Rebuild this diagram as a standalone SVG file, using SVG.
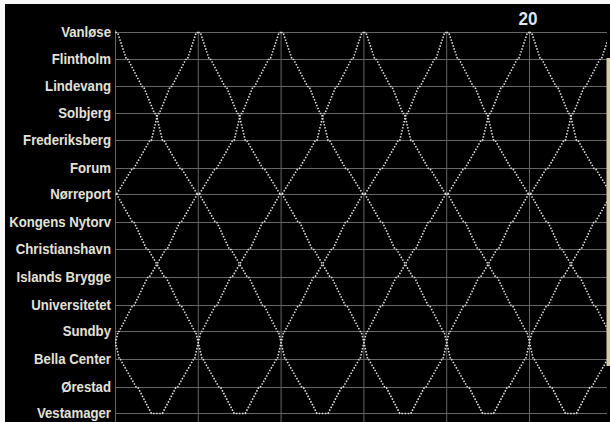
<svg xmlns="http://www.w3.org/2000/svg" xmlns:xlink="http://www.w3.org/1999/xlink" width="610" height="422" viewBox="0 0 610 422">
<style>
.lbl{font-family:"Liberation Sans",Arial,sans-serif;font-size:15px;font-weight:bold;fill:#e4e2da;text-anchor:end}
.grid{stroke:#666;stroke-width:1;fill:none}
.train{stroke:#e0e0e0;stroke-width:1.6;fill:none;stroke-dasharray:1.5 1.6}
</style>
<defs>
<clipPath id="plot"><rect x="115" y="28" width="492" height="394"/></clipPath>
<path id="trip" d="M0 32.5 L2 32.5 L11 59.5 L12.5 59.5 L26.5 86.5 L28 86.5 L39 113.5 L40.5 113.5 L47 140.5 L48.5 140.5 L64.5 168.5 L66 168.5 L82 194.5 L84 194.5 L100 222.5 L101.5 222.5 L114 249.5 L115.5 249.5 L132 277.5 L133.5 277.5 L147 305.5 L148.5 305.5 L162 331.5 L163 331.5 L169.5 359.5 L170.5 359.5 L186.5 387.5 L188 387.5 L201.5 413.5 L212.5 413.5 L226 387.5 L227.5 387.5 L243.5 359.5 L244.5 359.5 L251 331.5 L252 331.5 L265.5 305.5 L267 305.5 L280.5 277.5 L282 277.5 L298.5 249.5 L300 249.5 L312.5 222.5 L314 222.5 L330 194.5 L332 194.5 L348 168.5 L349.5 168.5 L365.5 140.5 L367 140.5 L373.5 113.5 L375 113.5 L386 86.5 L387.5 86.5 L401.5 59.5 L403 59.5 L412 32.5 L414 32.5"/>
</defs>
<rect x="0" y="0" width="610" height="422" fill="#f8f8f8"/>
<rect x="5" y="4" width="605" height="418" fill="#000"/>
<g id="grid">
<path class="grid" d="M115 32.5H607M115 59.5H607M115 86.5H607M115 113.5H607M115 140.5H607M115 168.5H607M115 194.5H607M115 222.5H607M115 249.5H607M115 277.5H607M115 305.5H607M115 331.5H607M115 359.5H607M115 387.5H607M115 413.5H607"/>
<path class="grid" d="M115.5 30V422M198.3 32V422M281.1 32V422M363.9 32V422M446.7 32V422M529.5 32V422"/>
</g>
<g id="connectors" clip-path="url(#plot)">
<use xlink:href="#trip" class="train" transform="translate(-298.5 0)"/>
<use xlink:href="#trip" class="train" transform="translate(-215.7 0)"/>
<use xlink:href="#trip" class="train" transform="translate(-132.9 0)"/>
<use xlink:href="#trip" class="train" transform="translate(-50.1 0)"/>
<use xlink:href="#trip" class="train" transform="translate(32.7 0)"/>
<use xlink:href="#trip" class="train" transform="translate(115.5 0)"/>
<use xlink:href="#trip" class="train" transform="translate(198.3 0)"/>
<use xlink:href="#trip" class="train" transform="translate(281.1 0)"/>
<use xlink:href="#trip" class="train" transform="translate(363.9 0)"/>
<use xlink:href="#trip" class="train" transform="translate(446.7 0)"/>
<use xlink:href="#trip" class="train" transform="translate(529.5 0)"/>
</g>
<g transform="translate(111 0) scale(0.88 1)">
<g id="vanlose"><text class="lbl" x="0" y="37.5">Vanløse</text></g>
<g id="flintholm"><text class="lbl" x="0" y="64.5">Flintholm</text></g>
<g id="lindevang"><text class="lbl" x="0" y="91.5">Lindevang</text></g>
<g id="solbjerg"><text class="lbl" x="0" y="118.5">Solbjerg</text></g>
<g id="frederiksberg"><text class="lbl" x="0" y="145.5">Frederiksberg</text></g>
<g id="forum"><text class="lbl" x="0" y="173.5">Forum</text></g>
<g id="norreport"><text class="lbl" x="0" y="199.5">Nørreport</text></g>
<g id="kongens-nytorv"><text class="lbl" x="0" y="227.5">Kongens Nytorv</text></g>
<g id="christianshavn"><text class="lbl" x="0" y="254.5">Christianshavn</text></g>
<g id="islands-brygge"><text class="lbl" x="0" y="282.5">Islands Brygge</text></g>
<g id="universitetet"><text class="lbl" x="0" y="310.5">Universitetet</text></g>
<g id="sundby"><text class="lbl" x="0" y="336.5">Sundby</text></g>
<g id="bella-center"><text class="lbl" x="0" y="364.5">Bella Center</text></g>
<g id="orestad"><text class="lbl" x="0" y="392.5">Ørestad</text></g>
<g id="vestamager"><text class="lbl" x="0" y="418.5">Vestamager</text></g>
</g>
<text x="528" y="25" font-family="Liberation Sans,Arial,sans-serif" font-size="19" font-weight="bold" fill="#dfe6ee" text-anchor="middle" transform="translate(528 0) scale(0.9 1) translate(-528 0)">20</text>
<rect x="606.5" y="58" width="3.5" height="308" fill="#d6cca4"/>
</svg>
